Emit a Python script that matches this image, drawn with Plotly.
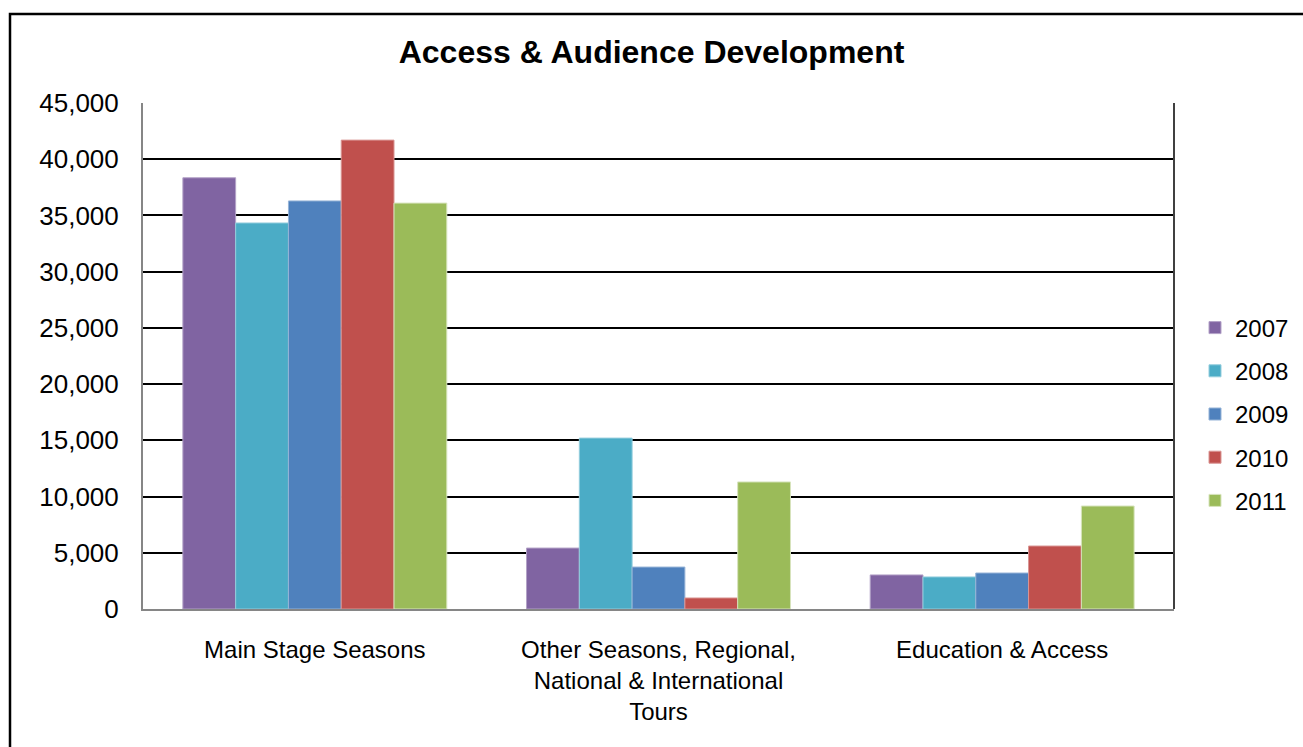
import plotly.graph_objects as go

categories = ["Main Stage Seasons",
              "Other Seasons, Regional,<br>National & International<br>Tours",
              "Education & Access"]
years = ["2007", "2008", "2009", "2010", "2011"]
values = {
    "2007": [38350, 5420, 3030],
    "2008": [34330, 15200, 2850],
    "2009": [36290, 3730, 3200],
    "2010": [41700, 980, 5600],
    "2011": [36100, 11300, 9160],
}
colors = {"2007": "#8064A2", "2008": "#4BACC6", "2009": "#4F81BD",
          "2010": "#C0504D", "2011": "#9BBB59"}
edge = {"2007": "#B3A2C7", "2008": "#93CDDD", "2009": "#95B3D7",
        "2010": "#D99694", "2011": "#D7E4BD"}

W, H = 1303, 747
L, R, T, B = 143, 1174, 103, 609

fig = go.Figure()
for i, y in enumerate(years):
    fig.add_trace(go.Bar(x=categories, y=values[y], name=y,
                         marker=dict(color=colors[y], line=dict(color=edge[y], width=1)),
                         legendgroup=y))

def px(xp): return (xp - L) / (R - L)
def py(yp): return (B - yp) / (B - T)

fig.update_layout(
    width=W, height=H,
    margin=dict(l=L, r=W - R, t=T, b=H - B, autoexpand=False),
    paper_bgcolor="white", plot_bgcolor="white",
    font=dict(family="Liberation Sans, Arial", size=26, color="black"),
    title=dict(text="<b>Access & Audience Development</b>", x=0.5, xanchor="center",
               y=1 - 52 / H, yanchor="middle", font=dict(size=32)),
    barmode="group", bargap=0.232, bargroupgap=0,
    legend=dict(x=px(1195), xanchor="left", y=py(414), yanchor="middle",
                traceorder="grouped", tracegroupgap=9, font=dict(size=24),
                itemwidth=30),
    xaxis=dict(showline=True, linecolor="#868686", linewidth=2, ticks="",
               ticklabelstandoff=18, tickfont=dict(size=24)),
    yaxis=dict(range=[0, 45000], dtick=5000, tickformat=",d", showgrid=True,
               gridcolor="black", gridwidth=1.5, showline=True, linecolor="#868686",
               linewidth=2, ticks="", ticklabelstandoff=17, zeroline=False,
               tickfont=dict(size=26)),
    shapes=[
        dict(type="line", xref="paper", yref="paper", x0=1, x1=1, y0=0, y1=1,
             line=dict(color="#404040", width=2)),
        dict(type="rect", xref="paper", yref="paper", x0=px(10), x1=px(1320),
             y0=py(770), y1=py(14), line=dict(color="black", width=2.5)),
    ],
)

fig.write_html("out.html")
